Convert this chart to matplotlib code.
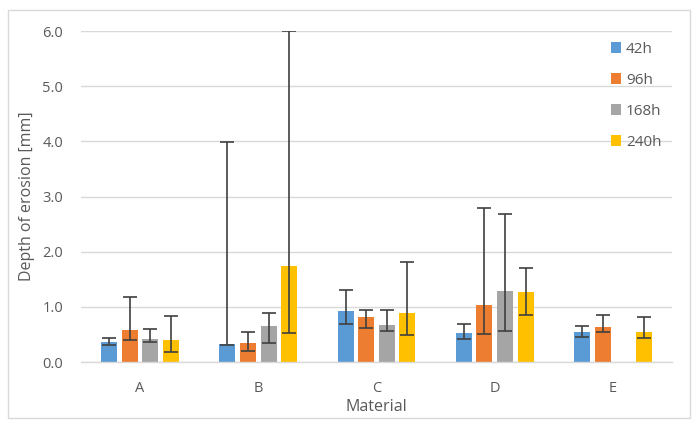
import numpy as np
import matplotlib
matplotlib.use("Agg")
import matplotlib.pyplot as plt
from matplotlib.patches import Rectangle

# data
materials = ["A", "B", "C", "D", "E"]
series = ["42h", "96h", "168h", "240h"]
colors = ["#5B9BD5", "#ED7D31", "#A5A5A5", "#FFC000"]

depth_42h = [0.37, 0.32, 0.93, 0.52, 0.55]
depth_96h = [0.58, 0.35, 0.82, 1.03, 0.64]
depth_168h = [0.42, 0.65, 0.67, 1.29, np.nan]
depth_240h = [0.40, 1.74, 0.88, 1.26, 0.54]

low_42h = [0.31, 0.30, 0.69, 0.41, 0.45]
low_96h = [0.39, 0.20, 0.61, 0.51, 0.54]
low_168h = [0.36, 0.35, 0.56, 0.56, np.nan]
low_240h = [0.19, 0.52, 0.49, 0.85, 0.43]

high_42h = [0.43, 3.99, 1.30, 0.69, 0.66]
high_96h = [1.18, 0.54, 0.95, 2.80, 0.86]
high_168h = [0.59, 0.88, 0.94, 2.69, np.nan]
high_240h = [0.84, 6.00, 1.82, 1.71, 0.81]

values = [depth_42h, depth_96h, depth_168h, depth_240h]
lows = [low_42h, low_96h, low_168h, low_240h]
highs = [high_42h, high_96h, high_168h, high_240h]

plt.rcParams['font.family'] = ['Open Sans', 'DejaVu Sans']
text_color = "#595959"
grid_color = "#D9D9D9"

fig = plt.figure(figsize=(7, 4.28), dpi=100)
ax = fig.add_axes([81 / 700, 1 - 362 / 428, 591 / 700, 331 / 428])

# outer chart border
fig.patches.append(Rectangle((8 / 700, 1 - 418 / 428), 682 / 700, 408 / 428,
                             transform=fig.transFigure, fill=False,
                             edgecolor=grid_color, linewidth=1.0))

x = np.arange(len(materials))
slot = 0.174
width = 0.136
for i, (name, vals, lo, hi, c) in enumerate(zip(series, values, lows, highs, colors)):
    pos = x + (i - 1.5) * slot
    vals = np.array(vals, dtype=float)
    lo = np.array(lo, dtype=float)
    hi = np.array(hi, dtype=float)
    ax.bar(pos, vals, width, color=c, label=name, zorder=2)
    ok = ~np.isnan(vals)
    yerr = np.vstack([vals[ok] - lo[ok], hi[ok] - vals[ok]])
    ax.errorbar(pos[ok], vals[ok], yerr=yerr, fmt="none", ecolor="#404040",
                elinewidth=1.2, capsize=5, capthick=1.2, zorder=3)

ax.set_xlim(-0.5, 4.5)
ax.set_ylim(0, 6.0)
ax.set_yticks(np.arange(0, 6.01, 1.0))
ax.set_yticklabels([f"{v:.1f}" for v in np.arange(0, 6.01, 1.0)])
ax.set_xticks(x)
ax.set_xticklabels(materials)
ax.tick_params(length=0, colors=text_color, labelsize=10.5)
ax.tick_params(axis="x", pad=14)
ax.tick_params(axis="y", pad=13)
ax.yaxis.grid(True, color=grid_color, linewidth=1.0, zorder=0)
ax.set_axisbelow(True)
for s in ["top", "right", "left"]:
    ax.spines[s].set_visible(False)
ax.spines["bottom"].set_color(grid_color)
ax.spines["bottom"].set_linewidth(1.0)

ax.set_xlabel("Material", color=text_color, fontsize=11.5, labelpad=2)
ax.set_ylabel("Depth of erosion [mm]", color=text_color, fontsize=11.5, labelpad=5)

leg = ax.legend(loc="upper right", bbox_to_anchor=(1.0, 1.0), frameon=False,
                fontsize=11, handlelength=0.7, handleheight=0.7,
                handletextpad=0.3, labelspacing=1.05, borderaxespad=0.3)
for t in leg.get_texts():
    t.set_color(text_color)

fig.savefig("out.png", dpi=100)
